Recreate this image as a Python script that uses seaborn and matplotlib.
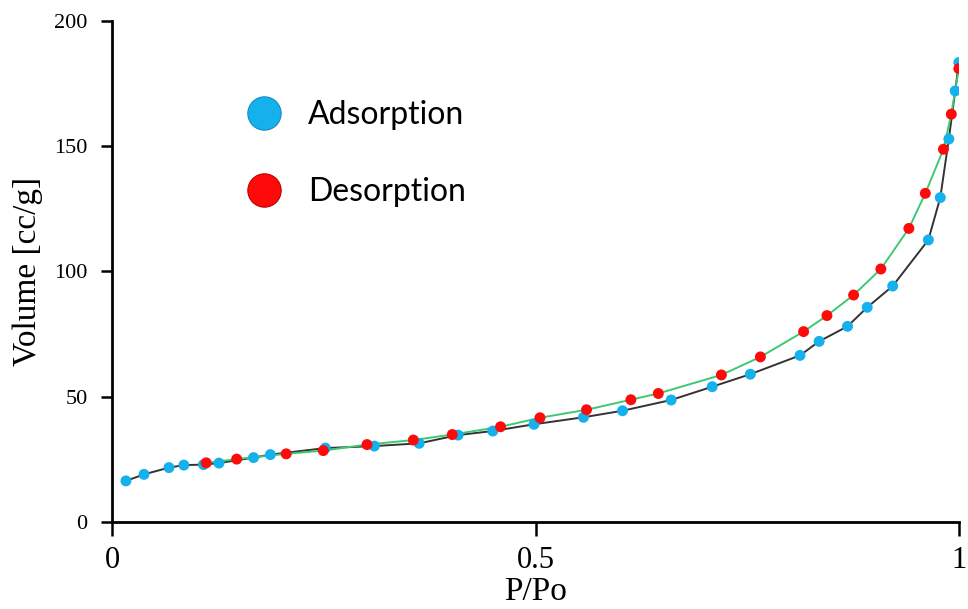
import matplotlib
matplotlib.use("Agg")
import matplotlib.pyplot as plt
from matplotlib.lines import Line2D
import seaborn as sns
import pandas as pd

# Nitrogen isotherm: relative pressure vs. adsorbed volume
ads_p = [0.0159, 0.0372, 0.0667, 0.0843, 0.1075, 0.1258, 0.1666, 0.1865,
         0.2514, 0.3093, 0.3623, 0.4083, 0.4493, 0.4979, 0.5564, 0.6025,
         0.6600, 0.7085, 0.7535, 0.8122, 0.8348, 0.8683, 0.8916, 0.9217,
         0.9638, 0.9779, 0.9880, 0.9955, 0.9998]
ads_v = [16.4, 19.0, 21.7, 22.7, 22.9, 23.5, 25.7, 26.9,
         29.5, 30.3, 31.4, 34.7, 36.3, 39.0, 41.8, 44.4,
         48.7, 54.0, 59.0, 66.5, 72.1, 78.1, 85.7, 94.2,
         112.6, 129.5, 152.9, 172.1, 183.4]

des_p = [0.1107, 0.1467, 0.2052, 0.2490, 0.3007, 0.3554, 0.4014, 0.4584,
         0.5050, 0.5600, 0.6124, 0.6448, 0.7193, 0.7654, 0.8164, 0.8440,
         0.8755, 0.9077, 0.9408, 0.9602, 0.9816, 0.9909, 0.9998]
des_v = [23.6, 25.1, 27.2, 28.5, 30.9, 32.7, 34.9, 38.0,
         41.6, 44.8, 48.8, 51.3, 58.7, 65.9, 76.0, 82.4,
         90.6, 101.0, 117.2, 131.2, 148.8, 162.8, 181.0]

x_ticks = [0, 0.5, 1]
x_tick_labels = ["0", "0.5", "1"]
y_ticks = [0, 50, 100, 150, 200]

ads = pd.DataFrame({"p": ads_p, "v": ads_v})
des = pd.DataFrame({"p": des_p, "v": des_v})

sns.set_style("ticks")
plt.rcParams["font.family"] = ["Liberation Serif", "DejaVu Serif"]
plt.rcParams["text.color"] = "black"
plt.rcParams["axes.labelcolor"] = "black"

blue = "#14b1ec"
red = "#ff0a0a"
green = "#3dc873"
dark = "#333333"

fig = plt.figure(figsize=(9.68, 6.09), dpi=100)
ax = fig.add_axes([0.1162, 0.1429, 0.8745, 0.8226])

sns.lineplot(data=ads, x="p", y="v", ax=ax, color=dark, lw=1.4,
             sort=False, zorder=2)
sns.lineplot(data=des, x="p", y="v", ax=ax, color=green, lw=1.4,
             sort=False, zorder=2)
sns.scatterplot(data=ads, x="p", y="v", ax=ax, color=blue, s=62,
                edgecolor="none", zorder=3)
sns.scatterplot(data=des, x="p", y="v", ax=ax, color=red, s=62,
                edgecolor="none", zorder=4)

ax.set_xlim(0, 1)
ax.set_ylim(0, 200)
ax.set_xticks(x_ticks)
ax.set_xticklabels(x_tick_labels)
ax.set_yticks(y_ticks)
ax.tick_params(axis="x", labelsize=22, length=10, width=1.8, pad=7.5,
               direction="out", colors="black")
ax.tick_params(axis="y", labelsize=16, length=8, width=1.8, pad=10,
               direction="out", colors="black")
for side in ("top", "right"):
    ax.spines[side].set_visible(False)
for side in ("left", "bottom"):
    ax.spines[side].set_linewidth(2.0)
    ax.spines[side].set_color("black")

ax.set_xlabel("P/Po", fontsize=24, labelpad=1)
ax.set_ylabel("Volume [cc/g]", fontsize=24, labelpad=8)

handles = [
    Line2D([], [], ls="none", marker="o", markersize=24, color=blue,
           markeredgecolor="#0d8fc4", markeredgewidth=0.8, label="Adsorption"),
    Line2D([], [], ls="none", marker="o", markersize=24, color=red,
           markeredgecolor="#c00000", markeredgewidth=0.8, label="Desorption"),
]
leg = ax.legend(handles=handles, loc="upper left",
                bbox_to_anchor=(0.1413, 0.842),
                frameon=False, prop={"family": "Lato", "size": 23},
                labelspacing=1.47, handletextpad=0.375, borderpad=0,
                borderaxespad=0)
for t in leg.get_texts():
    t.set_color("black")

fig.savefig("out.png", dpi=100)
